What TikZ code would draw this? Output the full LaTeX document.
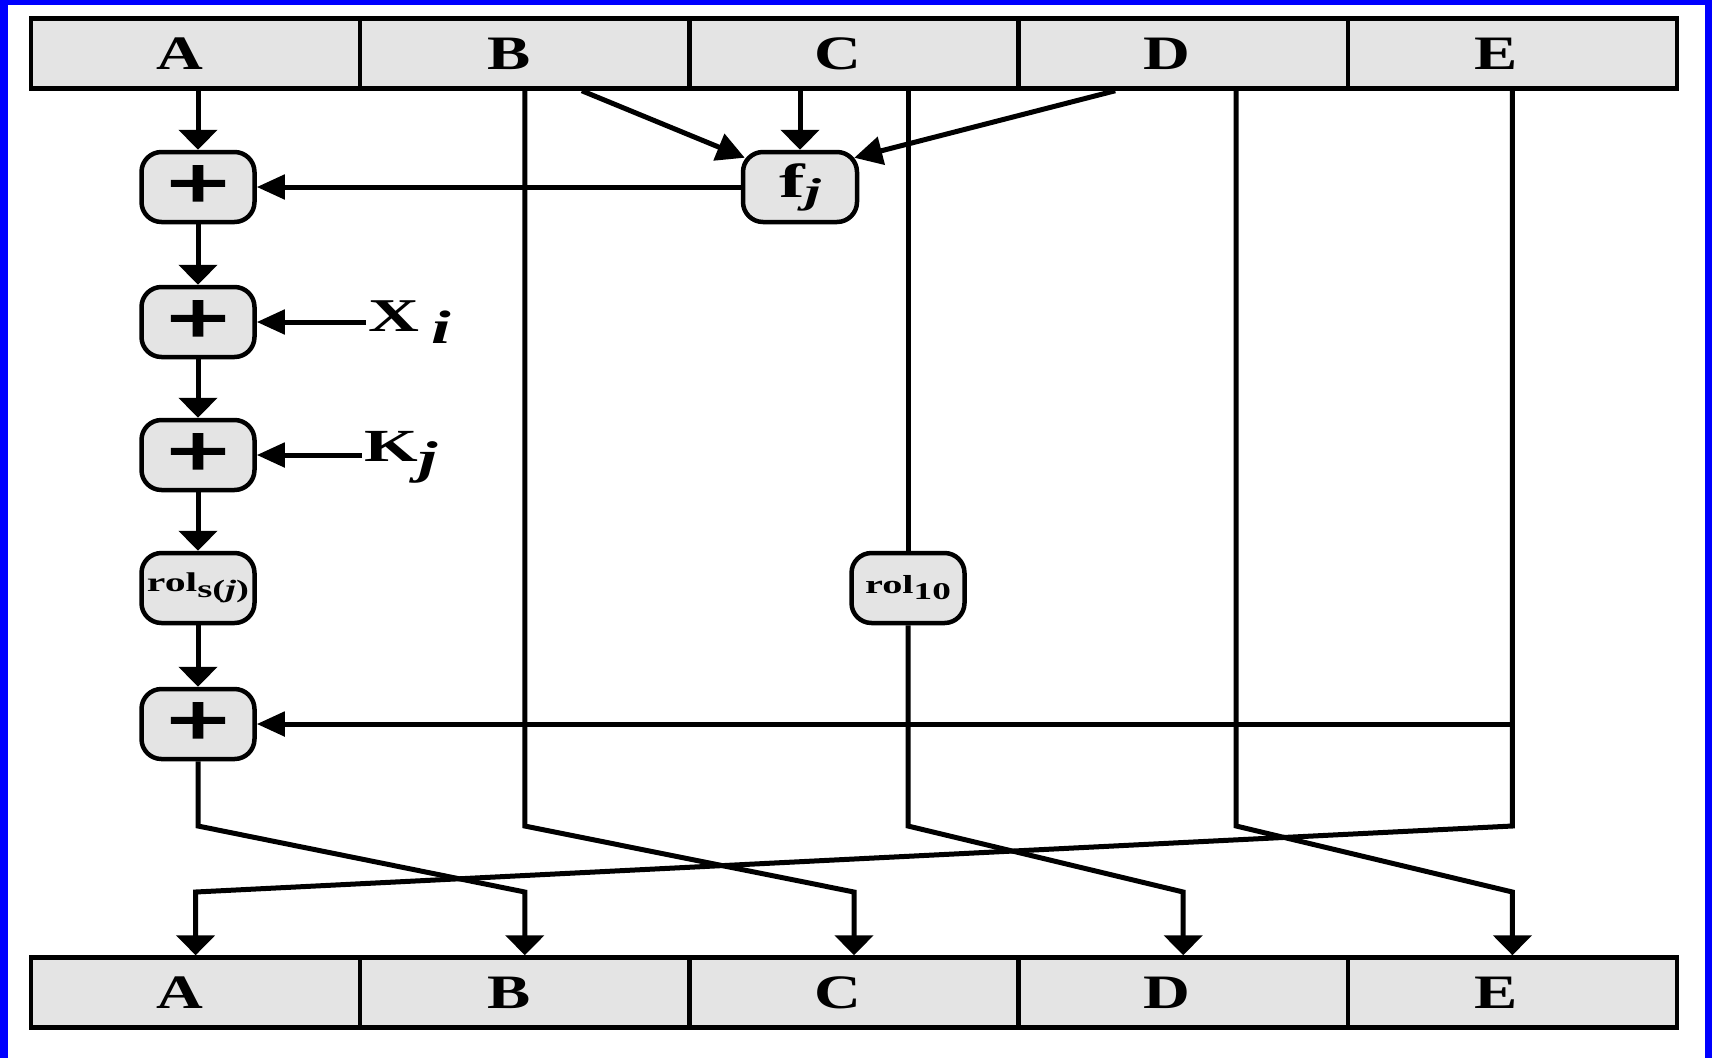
\documentclass[tikz,border=0pt]{standalone}
\usepackage{fontspec}
\setmainfont{Liberation Serif}
\newfontfamily\plusfont{Liberation Serif}[BoldFeatures={FakeBold=2.5}]
\usepackage{graphicx}
\usetikzlibrary{arrows.meta,calc}
\definecolor{cellgray}{HTML}{E4E4E4}
\definecolor{edgeblue}{HTML}{0000FF}
\newcommand{\wtxt}[1]{\scalebox{1.35}[1]{#1}}
\newcommand{\wwtxt}[1]{\scalebox{1.55}[1]{#1}}
\newcommand{\plustxt}{\scalebox{1.5}[1]{\fontsize{74}{74}\selectfont\plusfont\bfseries +}}
\begin{document}
\begin{tikzpicture}[x=1pt,y=-1pt,
  line width=5pt,
  regcell/.style={draw, line width=4.5pt, fill=cellgray, minimum width=329.2pt, minimum height=70pt, inner sep=0pt},
  opbox/.style={draw, line width=4.5pt, fill=cellgray, rounded corners=20pt, minimum width=113pt, minimum height=70pt, inner sep=0pt},
  reglbl/.style={font=\fontsize{48}{50}\selectfont\bfseries, xshift=-16pt, inner sep=0pt},
  vtip/.style={-{Triangle[length=20pt,width=38pt]}},
  htip/.style={-{Triangle[length=28pt,width=24pt]}},
  dtip/.style={-{Triangle[length=28pt,width=28pt]}},
  wire/.style={line join=miter}
]
\fill[white] (0,0) rectangle (1712,1058);
\useasboundingbox (0,0) rectangle (1712,1058);
\fill[edgeblue] (0,0) rectangle (8,1058);
\fill[edgeblue] (0,0) rectangle (1712,5);
\fill[edgeblue] (1705,0) rectangle (1712,1058);

% top register
\node[regcell, label={[reglbl]center:\wtxt{A}}] (tA) at (195.6,53.5) {};
\node[regcell, label={[reglbl]center:\wtxt{B}}] (tB) at (524.8,53.5) {};
\node[regcell, label={[reglbl]center:\wtxt{C}}] (tC) at (854.0,53.5) {};
\node[regcell, label={[reglbl]center:\wtxt{D}}] (tD) at (1183.2,53.5) {};
\node[regcell, label={[reglbl]center:\wtxt{E}}] (tE) at (1512.4,53.5) {};

% bottom register
\node[regcell, label={[reglbl]center:\wtxt{A}}] (bA) at (195.6,992.5) {};
\node[regcell, label={[reglbl]center:\wtxt{B}}] (bB) at (524.8,992.5) {};
\node[regcell, label={[reglbl]center:\wtxt{C}}] (bC) at (854.0,992.5) {};
\node[regcell, label={[reglbl]center:\wtxt{D}}] (bD) at (1183.2,992.5) {};
\node[regcell, label={[reglbl]center:\wtxt{E}}] (bE) at (1512.4,992.5) {};

% operation boxes
\node[opbox] (p1) at (198,187) {\plustxt};
\node[opbox] (p2) at (198,322) {\plustxt};
\node[opbox] (p3) at (198,455) {\plustxt};
\node[opbox] (rs) at (198,588) {\wwtxt{\fontsize{27}{27}\selectfont\bfseries rol\raisebox{-6pt}{\fontsize{25}{25}\selectfont s(\textit{j})}}};
\node[opbox] (p4) at (198,724) {\plustxt};
\node[opbox, minimum width=114pt] (fj) at (800,187) {\scalebox{1.6}[1]{\fontsize{48}{48}\selectfont\bfseries f\raisebox{-6pt}{\fontsize{36}{36}\selectfont\itshape j}}};
\node[opbox] (r10) at (908,588) {\wwtxt{\fontsize{26}{26}\selectfont\bfseries rol\raisebox{-6pt}{\fontsize{24}{24}\selectfont 10}}};

% side inputs
\node[anchor=base west, inner sep=0pt] (Xi) at (366,331) {\scalebox{1.5}[1]{\fontsize{47}{47}\selectfont\bfseries X\,\raisebox{-12pt}{\itshape i}}};
\node[anchor=base west, inner sep=0pt] (Kj) at (362,461) {\scalebox{1.5}[1]{\fontsize{46}{46}\selectfont\bfseries K\raisebox{-12pt}{\itshape j}}};

% levels for the final permutation
\coordinate (up) at (0,826);
\coordinate (lo) at (0,892);

% A chain
\draw[vtip] (p1.north |- tA.south) -- (p1.north);
\draw[vtip] (p1.south) -- (p2.north);
\draw[vtip] (p2.south) -- (p3.north);
\draw[vtip] (p3.south) -- (rs.north);
\draw[vtip] (rs.south) -- (p4.north);

% f inputs
\draw[dtip] ([xshift=57pt]tB.south) -- ($(fj.north west)+(4,8)$);
\draw[vtip] (fj.north |- tC.south) -- (fj.north);
\draw[dtip] ([xshift=-68pt]tD.south) -- ($(fj.north east)+(-5,8)$);
\draw[htip] (fj.west) -- (p1.east);

% side inputs
\draw[htip] (Xi.west |- p2.east) -- (p2.east);
\draw[htip] (Kj.west |- p3.east) -- (p3.east);

% rol10 on C
\draw (r10.north |- tC.south) -- (r10.north);

% E feedback
\draw[htip] (tE.south |- p4.east) -- (p4.east);

% permutation wires
\draw[wire, vtip] (p4.south) -- (p4.south |- up) -- (bB.north |- lo) -- (bB.north);
\draw[wire, vtip] (tB.south) -- (tB.south |- up) -- (bC.north |- lo) -- (bC.north);
\draw[wire, vtip] (r10.south) -- (r10.south |- up) -- (bD.north |- lo) -- (bD.north);
\draw[wire, vtip] ([xshift=53pt]tD.south) -- ([xshift=53pt]tD.south |- up) -- (bE.north |- lo) -- (bE.north);
\draw[wire, vtip] (tE.south) -- (tE.south |- up) -- (bA.north |- lo) -- (bA.north);
\end{tikzpicture}
\end{document}
